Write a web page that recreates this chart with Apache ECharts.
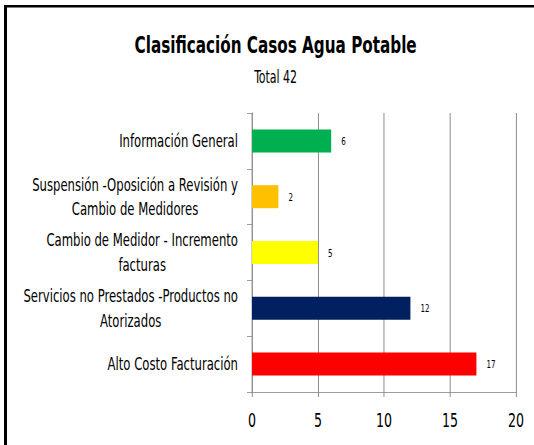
<!DOCTYPE html>
<html>
<head>
<meta charset="utf-8">
<script src="https://cdn.jsdelivr.net/npm/echarts@6/dist/echarts.min.js"></script>
<style>
  html, body { margin: 0; padding: 0; background: #fff; }
  #wrap { width: 534px; height: 445px; overflow: hidden; }
  /* the original uses a tall, narrow face (Calibri); draw wider and squeeze horizontally */
  #chart { width: 742px; height: 445px; transform: scaleX(0.7197); transform-origin: 0 0; }
</style>
</head>
<body>
<div id="wrap"><div id="chart"></div></div>
<script>
// categories listed bottom to top, as the axis draws them
var categories = [
    'Alto Costo Facturación',
    'Servicios no Prestados -Productos no\nAtorizados',
    'Cambio de Medidor - Incremento\nfacturas',
    'Suspensión -Oposición a Revisión y\nCambio de Medidores',
    'Información General'
];
var values = [17, 12, 5, 2, 6];
var barColors = ['#FF0000', '#002060', '#FFFF00', '#FFC000', '#00B050'];
var titleText = 'Clasificación Casos Agua Potable';
var subText = 'Total 42';

var font = '"DejaVu Sans Condensed", sans-serif';
var sx = 534 / 742;   // horizontal squeeze, used to keep vertical strokes 1px wide
var vw = 1 / sx;

var chart = echarts.init(document.getElementById('chart'), null, { renderer: 'svg' });

var seriesData = values.map(function (v, i) {
    return { value: v, itemStyle: { color: barColors[i] } };
});

chart.setOption({
    animation: false,
    backgroundColor: '#fff',
    title: {
        text: titleText,
        subtext: subText,
        left: 272 / sx,
        textAlign: 'center',
        top: 28,
        itemGap: 11,
        textStyle: { fontFamily: font, fontSize: 23.5, fontWeight: 'bold', color: '#000' },
        subtextStyle: { fontFamily: font, fontSize: 17, color: '#000' }
    },
    graphic: [
        { type: 'rect', shape: { x: 4 / sx, y: 5, width: 800, height: 2.6 }, style: { fill: '#000' } },
        { type: 'rect', shape: { x: 4 / sx, y: 5, width: 3 / sx, height: 500 }, style: { fill: '#000' } }
    ],
    grid: { left: 252 / sx, right: 18 / sx, top: 113, bottom: 53, outerBoundsMode: 'none' },
    xAxis: {
        type: 'value',
        min: 0,
        max: 20,
        interval: 5,
        axisLine: { show: true, lineStyle: { color: '#8c8c8c', width: 1 } },
        axisTick: { show: true, length: 5, lineStyle: { color: '#8c8c8c', width: vw } },
        splitLine: { show: true, lineStyle: { color: '#8c8c8c', width: vw } },
        axisLabel: { fontFamily: font, fontSize: 19.5, color: '#000', margin: 18 }
    },
    yAxis: {
        type: 'category',
        data: categories,
        axisLine: { show: true, lineStyle: { color: '#8c8c8c', width: vw } },
        axisTick: { show: true, length: 5 / sx, lineStyle: { color: '#8c8c8c', width: 1 } },
        axisLabel: {
            margin: 14 / sx,
            align: 'right',
            formatter: function (v) {
                return v.split('\n').map(function (s) { return '{c|' + s + '}'; }).join('\n');
            },
            rich: {
                c: { fontFamily: font, fontSize: 18, color: '#000', lineHeight: 25, align: 'center' }
            }
        }
    },
    series: [{
        type: 'bar',
        data: seriesData,
        barWidth: 23,
        label: {
            show: true,
            position: 'right',
            distance: 10 / sx,
            fontFamily: font,
            fontSize: 11,
            color: '#000'
        }
    }]
});
</script>
</body>
</html>
